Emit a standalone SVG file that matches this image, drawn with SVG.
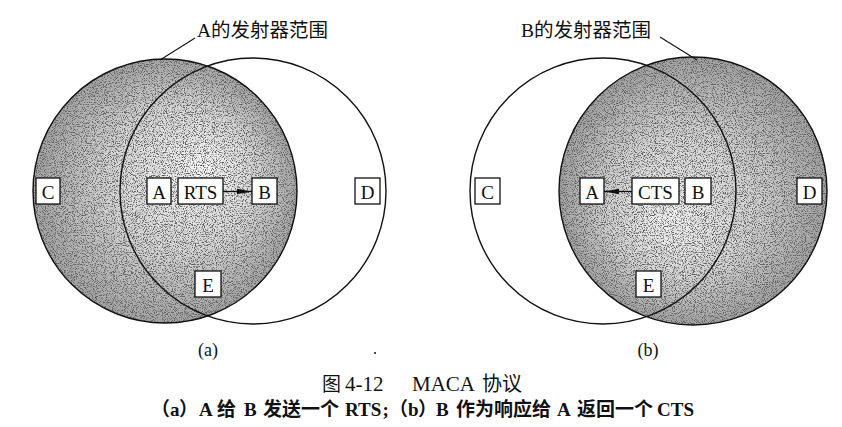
<svg xmlns="http://www.w3.org/2000/svg" width="842" height="427" viewBox="0 0 842 427">
<defs>
<style>
.ring{fill:none;stroke:#111;stroke-width:1.4}
.box rect{fill:#fff;stroke:#111;stroke-width:1.3}
.box text{font-family:"Liberation Serif","Times New Roman",serif;font-size:19px;fill:#111;text-anchor:middle}
.lbl{font-family:"Liberation Serif","Noto Sans CJK SC",sans-serif;font-size:19.5px;fill:#111}
.lead{stroke:#111;stroke-width:1.1;fill:none}
.conn{stroke:#111;stroke-width:1.3;fill:none}
.sub{font-family:"Liberation Serif",serif;font-size:18px;fill:#111;text-anchor:middle}
.cap1{font-family:"Liberation Serif","Noto Sans CJK SC",serif;font-size:21px;fill:#111}
.cap2{font-family:"Liberation Serif","Noto Sans CJK SC",serif;font-size:19px;fill:#111;font-weight:bold}
</style>
<radialGradient id="gA" cx="0.5" cy="0.5" r="0.5" fx="0.66" fy="0.4">
<stop offset="0" stop-color="#f6f6f6"/>
<stop offset="0.55" stop-color="#d6d6d6"/>
<stop offset="1" stop-color="#a4a4a4"/>
</radialGradient>
<radialGradient id="gB" cx="0.5" cy="0.5" r="0.5" fx="0.4" fy="0.62">
<stop offset="0" stop-color="#f2f2f2"/>
<stop offset="0.55" stop-color="#d2d2d2"/>
<stop offset="1" stop-color="#a2a2a2"/>
</radialGradient>
<filter id="speck" x="-5%" y="-5%" width="110%" height="110%">
<feTurbulence type="fractalNoise" baseFrequency="0.9" numOctaves="2" seed="7" result="noise"/>
<feColorMatrix in="noise" type="matrix" values="0 0 0 0 0.12  0 0 0 0 0.12  0 0 0 0 0.12  -6 0 0 0 3.1" result="dark"/>
<feComposite in="dark" in2="SourceGraphic" operator="in" result="clipped"/>
<feComposite in="clipped" in2="SourceGraphic" operator="over"/>
</filter>
<marker id="head" markerUnits="userSpaceOnUse" markerWidth="16" markerHeight="8" refX="15" refY="4" orient="auto">
<path d="M0,1.2 L15,4 L0,6.8 z" fill="#111"/>
</marker>
</defs>

<!-- (a) -->
<g id="rangeA-a">
<circle cx="165" cy="191" r="132" fill="url(#gA)" filter="url(#speck)"/>
<circle class="ring" cx="165" cy="191" r="132"/>
</g>
<g id="rangeB-a">
<circle class="ring" cx="253" cy="191" r="133"/>
</g>
<text class="lbl" x="197" y="37">A的发射器范围</text>

<g id="a-C" class="box"><rect x="36" y="178" width="24" height="26"/><text x="48" y="199">C</text></g>
<g id="a-A" class="box"><rect x="147" y="178" width="24" height="26"/><text x="159" y="199">A</text></g>
<g id="a-RTS" class="box"><rect x="178" y="178" width="45" height="26"/><text x="200.5" y="199">RTS</text></g>
<g id="a-B" class="box"><rect x="252" y="178" width="25" height="26"/><text x="264.5" y="199">B</text></g>
<g id="a-D" class="box"><rect x="355" y="178" width="25" height="26"/><text x="367.5" y="199">D</text></g>
<g id="a-E" class="box"><rect x="195" y="271" width="26" height="26"/><text x="208" y="292">E</text></g>

<!-- (b) -->
<g id="rangeB-b">
<circle cx="693" cy="191" r="134" fill="url(#gB)" filter="url(#speck)"/>
<circle class="ring" cx="693" cy="191" r="134"/>
</g>
<g id="rangeA-b">
<circle class="ring" cx="603" cy="191" r="133"/>
</g>
<text class="lbl" x="521" y="37">B的发射器范围</text>

<g id="b-C" class="box"><rect x="475" y="178" width="25" height="26"/><text x="487.5" y="199">C</text></g>
<g id="b-A" class="box"><rect x="580" y="178" width="24" height="26"/><text x="592" y="199">A</text></g>
<g id="b-CTS" class="box"><rect x="632" y="178" width="47" height="26"/><text x="655.5" y="199">CTS</text></g>
<g id="b-B" class="box"><rect x="685" y="178" width="26" height="26"/><text x="698" y="199">B</text></g>
<g id="b-D" class="box"><rect x="797" y="178" width="25" height="26"/><text x="809.5" y="199">D</text></g>
<g id="b-E" class="box"><rect x="636" y="271" width="25" height="26"/><text x="648.5" y="292">E</text></g>

<g id="connectors">
<line class="conn" x1="223" y1="191.5" x2="252" y2="191.5" marker-end="url(#head)"/>
<line class="conn" x1="632" y1="191.5" x2="604" y2="191.5" marker-end="url(#head)"/>
<line class="lead" x1="195" y1="38" x2="160" y2="60"/>
<line class="lead" x1="660" y1="37" x2="697" y2="60"/>
</g>

<text class="sub" x="208" y="356">(a)</text>
<text class="sub" x="648" y="356">(b)</text>
<circle cx="375" cy="353" r="1" fill="#111"/>

<text class="cap1" y="391"><tspan x="322" font-size="19">图</tspan><tspan x="345">4-12</tspan><tspan x="412">MACA</tspan><tspan x="482" font-size="20">协议</tspan></text>
<text class="cap2" y="416"><tspan x="151">（</tspan><tspan x="170">a</tspan><tspan x="179">）</tspan><tspan x="199">A</tspan><tspan x="217">给</tspan><tspan x="244">B</tspan><tspan x="263">发送一个</tspan><tspan x="345">RTS</tspan><tspan x="382.5">;</tspan><tspan x="389">（</tspan><tspan x="408">b</tspan><tspan x="418">）</tspan><tspan x="436">B</tspan><tspan x="456">作为响应给</tspan><tspan x="557">A</tspan><tspan x="577">返回一个</tspan><tspan x="657">CTS</tspan></text>
</svg>
